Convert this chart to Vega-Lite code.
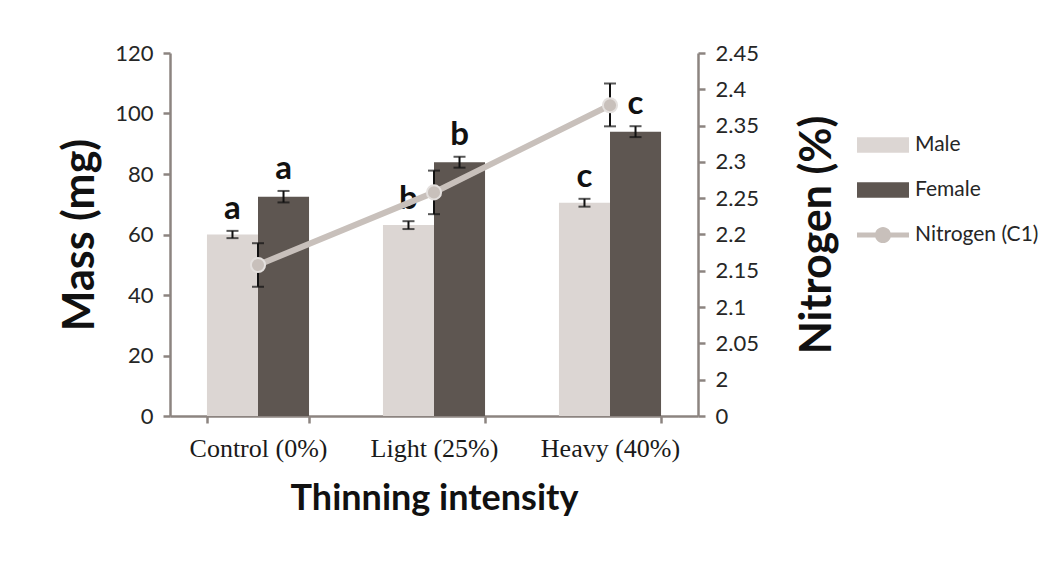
{
  "$schema": "https://vega.github.io/schema/vega-lite/v6.json",
  "autosize": {"type": "none"},
  "padding": {"left": 170, "top": 53, "right": 351, "bottom": 168},
  "width": 528,
  "height": 363,
  "background": "white",
  "datasets": {
    "bars": [
      {"treatment": "Control (0%)", "sex": "Male", "mass": 60.0, "lo": 58.8, "hi": 61.2, "letter": "a"},
      {"treatment": "Control (0%)", "sex": "Female", "mass": 72.5, "lo": 70.6, "hi": 74.4, "letter": "a"},
      {"treatment": "Light (25%)", "sex": "Male", "mass": 63.1, "lo": 61.8, "hi": 64.4, "letter": "b"},
      {"treatment": "Light (25%)", "sex": "Female", "mass": 83.9, "lo": 82.1, "hi": 85.7, "letter": "b"},
      {"treatment": "Heavy (40%)", "sex": "Male", "mass": 70.5, "lo": 69.2, "hi": 71.8, "letter": "c"},
      {"treatment": "Heavy (40%)", "sex": "Female", "mass": 94.0, "lo": 92.2, "hi": 95.8, "letter": "c"}
    ],
    "nitrogen": [
      {"treatment": "Control (0%)", "series": "Nitrogen (C1)", "n": 2.158, "nlo": 2.128, "nhi": 2.188},
      {"treatment": "Light (25%)", "series": "Nitrogen (C1)", "n": 2.258, "nlo": 2.228, "nhi": 2.288},
      {"treatment": "Heavy (40%)", "series": "Nitrogen (C1)", "n": 2.378, "nlo": 2.349, "nhi": 2.408}
    ]
  },
  "config": {
    "view": {"stroke": null},
    "axis": {
      "domainColor": "#8C8480", "domainWidth": 2.5, "tickColor": "#8C8480", "tickWidth": 2.5, "tickSize": 7,
      "grid": false, "labelFont": "Lato", "labelFontSize": 22, "labelColor": "#262626", "labelOverlap": false,
      "titleFont": "Lato", "titleFontWeight": "bold", "titleColor": "#111111"
    },
    "axisY": {"labelOverlap": false, "labelSeparation": 0},
    "axisRight": {"labelOverlap": false},
    "axisQuantitative": {"labelOverlap": false},
    "legend": {"labelFont": "Lato", "labelFontSize": 21, "labelColor": "#262626"}
  },
  "resolve": {"scale": {"y": "independent"}},
  "layer": [
    {
      "data": {"name": "bars"},
      "layer": [
        {
          "mark": {"type": "bar"},
          "encoding": {
            "x": {"field": "treatment", "type": "nominal",
              "scale": {"domain": ["Control (0%)", "Light (25%)", "Heavy (40%)"], "paddingInner": 0.42, "paddingOuter": 0.21},
              "axis": {"title": "Thinning intensity", "titleFontSize": 36, "titlePadding": 20, "labelAngle": 0,
                "labelFont": "Liberation Serif", "labelFontSize": 26, "labelColor": "#1a1a1a", "labelPadding": 12, "labelDx": 9, "tickBand": "extent"}},
            "xOffset": {"field": "sex", "type": "nominal", "scale": {"domain": ["Male", "Female"], "paddingInner": 0, "paddingOuter": 0}},
            "y": {"field": "mass", "type": "quantitative",
              "scale": {"domain": [0, 120], "nice": false},
              "axis": {"title": "Mass (mg)", "titleFontSize": 43, "values": [0, 20, 40, 60, 80, 100, 120], "labelPadding": 10, "titlePadding": 12, "labelOverlap": false}},
            "fill": {"field": "sex", "type": "nominal",
              "scale": {"domain": ["Male", "Female", "Nitrogen (C1)"], "range": ["#DCD6D3", "#5E5651", "#C8C0BB"]},
              "legend": {"title": null, "orient": "none", "legendX": 687, "legendY": 66, "symbolSize": 2704, "rowPadding": 9, "labelOffset": 6,
                "encode": {"symbols": {"update": {
                  "shape": {"signal": "datum.value === 'Nitrogen (C1)' ? 'M-1,-0.1H1V0.1H-1Z M0.31,0A0.31,0.31 0 1,1 -0.31,0A0.31,0.31 0 1,1 0.31,0Z' : 'M-1,-0.3H1V0.3H-1Z'"},
                  "opacity": {"value": 1}, "strokeWidth": {"value": 0}}}}}}
          }
        },
        {
          "mark": {"type": "rule", "color": "#111111", "strokeWidth": 2},
          "encoding": {
            "x": {"field": "treatment", "type": "nominal"},
            "xOffset": {"field": "sex", "type": "nominal"},
            "y": {"field": "lo", "type": "quantitative"},
            "y2": {"field": "hi"}
          }
        },
        {
          "mark": {"type": "tick", "color": "#111111", "thickness": 2, "size": 12, "orient": "horizontal"},
          "encoding": {
            "x": {"field": "treatment", "type": "nominal"},
            "xOffset": {"field": "sex", "type": "nominal"},
            "y": {"field": "lo", "type": "quantitative"}
          }
        },
        {
          "mark": {"type": "tick", "color": "#111111", "thickness": 2, "size": 12, "orient": "horizontal"},
          "encoding": {
            "x": {"field": "treatment", "type": "nominal"},
            "xOffset": {"field": "sex", "type": "nominal"},
            "y": {"field": "hi", "type": "quantitative"}
          }
        },
        {
          "mark": {"type": "text", "font": "Lato", "fontWeight": "bold", "fontSize": 33, "color": "#111111", "baseline": "bottom", "dy": -5},
          "encoding": {
            "x": {"field": "treatment", "type": "nominal"},
            "xOffset": {"field": "sex", "type": "nominal"},
            "y": {"field": "hi", "type": "quantitative"},
            "text": {"field": "letter"}
          }
        }
      ]
    },
    {
      "data": {"name": "nitrogen"},
      "encoding": {
        "x": {"field": "treatment", "type": "nominal"},
        "y": {"field": "n", "type": "quantitative",
          "scale": {"domain": [1.95, 2.45], "nice": false, "zero": false},
          "axis": {"orient": "right", "title": "Nitrogen (%)", "titleFontSize": 43, "titleAngle": 270, "titleBaseline": "top",
            "values": [1.95, 2, 2.05, 2.1, 2.15, 2.2, 2.25, 2.3, 2.35, 2.4, 2.45], "labelOverlap": false,
            "labelExpr": "datum.value < 1.97 ? '0' : format(datum.value, '.2~f')", "labelPadding": 10, "titlePadding": 38}}
      },
      "layer": [
        {
          "mark": {"type": "line", "color": "#C8C0BB", "strokeWidth": 6}
        },
        {
          "mark": {"type": "rule", "color": "#111111", "strokeWidth": 2},
          "encoding": {
            "y": {"field": "nlo", "type": "quantitative"},
            "y2": {"field": "nhi"}
          }
        },
        {
          "mark": {"type": "tick", "color": "#111111", "thickness": 2, "size": 12, "orient": "horizontal"},
          "encoding": {
            "y": {"field": "nlo", "type": "quantitative"}
          }
        },
        {
          "mark": {"type": "tick", "color": "#111111", "thickness": 2, "size": 12, "orient": "horizontal"},
          "encoding": {
            "y": {"field": "nhi", "type": "quantitative"}
          }
        },
        {
          "mark": {"type": "circle", "size": 200, "opacity": 1, "stroke": "#E4E0DE", "strokeWidth": 2},
          "encoding": {
            "fill": {"field": "series", "type": "nominal"}
          }
        }
      ]
    }
  ]
}
